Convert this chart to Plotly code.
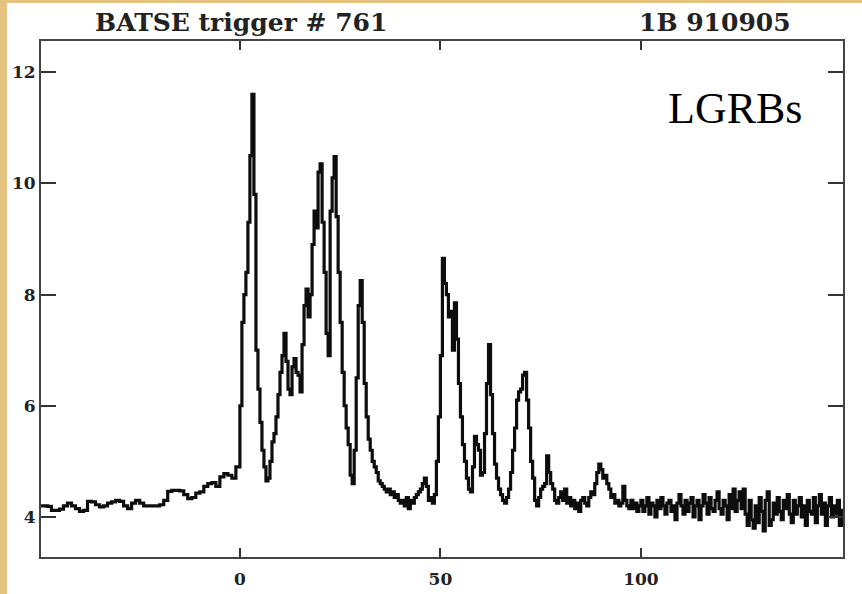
import numpy as np
import plotly.graph_objects as go

# ---- data (counts, arbitrary units ×1000) ----
pre_start, pre_step = -50.0, 1.0
pre_counts = [
    4.2, 4.2, 4.19, 4.12, 4.12, 4.14, 4.2, 4.25, 4.2, 4.15,
    4.1, 4.12, 4.28, 4.27, 4.22, 4.18, 4.2, 4.25, 4.27, 4.3,
    4.28, 4.2, 4.15, 4.25, 4.3, 4.25, 4.2, 4.2, 4.2, 4.2,
    4.22, 4.3, 4.46, 4.48, 4.48, 4.47, 4.4, 4.33, 4.35, 4.43,
    4.45, 4.55, 4.6, 4.62, 4.55, 4.72, 4.78, 4.75, 4.7, 4.9,
]

burst_start, burst_step = 0.0, 0.5
burst_counts = [
    6.0, 7.5, 8.0, 8.4, 9.3, 10.5, 11.6, 9.8, 7.0, 6.3,
    5.7, 5.2, 4.9, 4.65, 4.7, 5.0, 5.35, 5.5, 5.8, 6.2,
    6.6, 6.9, 7.3, 6.8, 6.3, 6.2, 6.7, 6.85, 6.6, 6.55,
    6.25, 7.1, 7.8, 8.1, 7.6, 8.0, 8.9, 9.5, 9.2, 10.2,
    10.35, 9.3, 8.4, 7.3, 6.9, 9.5, 10.1, 10.48, 9.4, 8.4,
    7.5, 6.6, 6.0, 5.6, 5.3, 4.75, 4.6, 5.2, 6.5, 7.8,
    8.25, 7.5, 6.4, 5.8, 5.4, 5.2, 5.0, 4.9, 4.8, 4.65,
    4.6, 4.55, 4.5, 4.45, 4.5, 4.4, 4.45, 4.35, 4.4, 4.3,
    4.25, 4.3, 4.2, 4.35, 4.15, 4.3, 4.25, 4.35, 4.4, 4.45,
    4.5, 4.6, 4.7, 4.55, 4.3, 4.35, 4.25, 4.4, 5.0, 5.8,
    6.9, 8.65, 8.2, 8.0, 7.6, 7.7, 7.0, 7.85, 7.2, 6.4,
    5.8, 5.3, 5.0, 4.7, 4.5, 4.45, 4.9, 5.45, 5.3, 5.2,
    4.75, 4.8, 5.5, 6.4, 7.1, 6.2, 5.5, 4.95, 4.7, 4.5,
    4.4, 4.3, 4.25, 4.35, 4.5, 4.8, 5.2, 5.6, 6.1, 6.25,
    6.3, 6.55, 6.6, 6.1, 5.6, 5.0, 4.7, 4.3, 4.2, 4.35,
    4.5, 4.55, 4.6, 5.1, 4.8, 4.6, 4.5, 4.3, 4.25, 4.35,
    4.45, 4.3, 4.5, 4.25, 4.35, 4.2, 4.3, 4.15, 4.25, 4.1,
    4.3, 4.35, 4.25, 4.2, 4.35, 4.45, 4.4, 4.6, 4.8, 4.95,
    4.85, 4.7, 4.75, 4.6, 4.5, 4.35, 4.4, 4.25, 4.3, 4.2,
    4.25, 4.55, 4.3, 4.2, 4.15, 4.3, 4.15, 4.25, 4.1, 4.2,
]

tail_start, tail_step = 100.0, 0.5
tail_counts = [
    4.3, 4.1, 4.2, 4.35, 4.05, 4.25, 4.2, 4.0, 4.3, 4.15,
    4.35, 4.2, 4.05, 4.25, 4.3, 4.1, 4.2, 3.95, 4.25, 4.4,
    4.2, 4.05, 4.3, 4.1, 4.25, 4.35, 4.0, 4.2, 4.3, 3.95,
    4.2, 4.4, 4.25, 4.05, 4.35, 4.15, 4.1, 4.3, 4.45, 4.15,
    4.05, 4.3, 4.2, 3.95, 4.4, 4.15, 4.5, 4.1, 4.3, 4.45,
    4.15, 4.5, 4.05, 3.85, 4.3, 3.95, 3.8, 4.2, 3.9, 4.35,
    4.1, 3.75, 4.3, 4.45, 3.85, 3.95, 4.25, 4.05, 4.35, 4.1,
    3.95, 4.3, 4.15, 4.4, 4.05, 3.9, 4.3, 4.05, 4.2, 4.35,
    4.0, 4.2, 3.85, 4.3, 4.1, 4.05, 4.35, 3.9, 4.2, 4.4,
    4.05, 4.25, 3.85, 4.2, 4.35, 4.0, 4.2, 4.05, 4.3, 3.85,
    4.15,
]

x_ticks = [0, 50, 100]
y_ticks = [4, 6, 8, 10, 12]
title_left = "BATSE trigger # 761"
title_right = "1B 910905"
label = "LGRBs"

# ---- assemble time axis ----
t = np.concatenate([
    pre_start + pre_step * np.arange(len(pre_counts)),
    burst_start + burst_step * np.arange(len(burst_counts)),
    tail_start + tail_step * np.arange(len(tail_counts)),
])
c = np.concatenate([pre_counts, burst_counts, tail_counts])

fig = go.Figure()
fig.add_trace(go.Scatter(
    x=t, y=c, mode="lines",
    line=dict(color="#0d0d0d", width=3.2, shape="hv"),
    showlegend=False, hoverinfo="skip",
))

W, H = 862, 594
L, R, T, B = 41, 19, 41, 37
pw, ph = W - L - R, H - T - B


def px_x(p):
    return (p - L) / pw


def px_y(p):
    return (H - B - p) / ph


tick_font = dict(family="DejaVu Serif", size=17, color="#222222", weight="bold")
axis_common = dict(
    showline=True, linecolor="#444444", linewidth=2, mirror="ticks",
    ticks="inside", tickcolor="#333333", tickwidth=2,
    showgrid=False, zeroline=False, tickfont=tick_font, automargin=False,
)

fig.update_xaxes(range=[-49.6, 150.4], tickvals=x_ticks, ticklen=9,
                 ticklabelstandoff=6, **axis_common)
fig.update_yaxes(range=[3.28, 12.56], tickvals=y_ticks, ticklen=15, **axis_common)

title_font = dict(family="DejaVu Serif", size=25, color="#222222", weight="bold")
fig.update_layout(
    width=W, height=H,
    margin=dict(l=L, r=R, t=T, b=B, pad=0, autoexpand=False),
    paper_bgcolor="white", plot_bgcolor="white",
    annotations=[
        dict(text=title_left, x=px_x(240.5), y=px_y(22.5), xref="paper", yref="paper",
             showarrow=False, xanchor="center", yanchor="middle", font=title_font),
        dict(text=title_right, x=px_x(715), y=px_y(22.5), xref="paper", yref="paper",
             showarrow=False, xanchor="center", yanchor="middle", font=title_font),
        dict(text=label, x=px_x(734.5), y=px_y(108.5), xref="paper", yref="paper",
             showarrow=False, xanchor="center", yanchor="middle",
             font=dict(family="Liberation Serif", size=44, color="#000000")),
    ],
    shapes=[
        dict(type="rect", xref="paper", yref="paper",
             x0=px_x(0), x1=px_x(7), y0=px_y(H), y1=px_y(0),
             fillcolor="#E4C27F", line=dict(width=0), layer="below"),
        dict(type="rect", xref="paper", yref="paper",
             x0=px_x(0), x1=px_x(W), y0=px_y(3), y1=px_y(0),
             fillcolor="#E4C27F", line=dict(width=0), layer="below"),
    ],
)

fig.write_html("out.html")
